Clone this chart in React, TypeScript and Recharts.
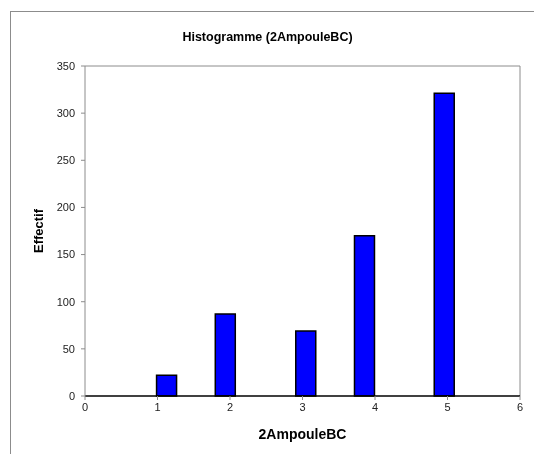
import { BarChart, Bar, XAxis, YAxis, ReferenceLine } from 'recharts';

const binCentres = [1.13, 1.94, 3.05, 3.86, 4.96];
const counts = [22, 87, 69, 170, 321];
const xTicks = [0, 1, 2, 3, 4, 5, 6];
const yTicks = [0, 50, 100, 150, 200, 250, 300, 350];

const data = binCentres.map((x, i) => ({ x, count: counts[i] }));

const FONT = '"Liberation Sans", Arial, sans-serif';
const GRAY = '#8c8c8c';

export default function App() {
  return (
    <div style={{ position: 'relative', width: 526, height: 438, fontFamily: FONT }}>
      {/* outer chart frame, cropped at right and bottom like the reference */}
      <div
        style={{
          position: 'fixed', left: 10, top: 11, right: -20, bottom: -20,
          borderTop: `1px solid ${GRAY}`, borderLeft: `1px solid ${GRAY}`,
        }}
      />
      <div
        style={{
          position: 'absolute', left: 109.5, top: 21, width: 300, textAlign: 'center',
          fontSize: 12.5, fontWeight: 'bold', lineHeight: '16px', color: '#000',
        }}
      >
        Histogramme (2AmpouleBC)
      </div>
      <BarChart
        width={526}
        height={438}
        data={data}
        margin={{ top: 58, right: 14, left: 0, bottom: 2 }}
        style={{ position: 'absolute', left: 0, top: 0 }}
      >
        <XAxis
          dataKey="x"
          type="number"
          domain={[0, 6]}
          ticks={xTicks}
          interval={0}
          height={48}
          axisLine={{ stroke: '#000', strokeWidth: 1.5 }}
          tickLine={{ stroke: GRAY }}
          tickSize={4}
          tickMargin={3}
          tick={{ fill: '#222', fontSize: 11, fontFamily: FONT }}
          label={{
            value: '2AmpouleBC', position: 'insideBottom', offset: 5,
            style: { fontSize: 14, fontWeight: 'bold', fill: '#000', fontFamily: FONT },
          }}
        />
        <YAxis
          type="number"
          domain={[0, 350]}
          ticks={yTicks}
          interval={0}
          width={77}
          axisLine={{ stroke: GRAY }}
          tickLine={{ stroke: GRAY }}
          tickSize={4}
          tickMargin={6}
          tick={{ fill: '#222', fontSize: 11, fontFamily: FONT }}
          label={{
            value: 'Effectif', angle: -90, position: 'insideLeft', offset: 30,
            style: { fontSize: 13, fontWeight: 'bold', fill: '#000', textAnchor: 'middle', fontFamily: FONT },
          }}
        />
        <ReferenceLine y={350} stroke={GRAY} ifOverflow="visible" />
        <ReferenceLine x={6} stroke={GRAY} ifOverflow="visible" />
        <Bar
          dataKey="count"
          barSize={20}
          fill="#0000ff"
          stroke="#000"
          strokeWidth={1.5}
          isAnimationActive={false}
        />
      </BarChart>
    </div>
  );
}
